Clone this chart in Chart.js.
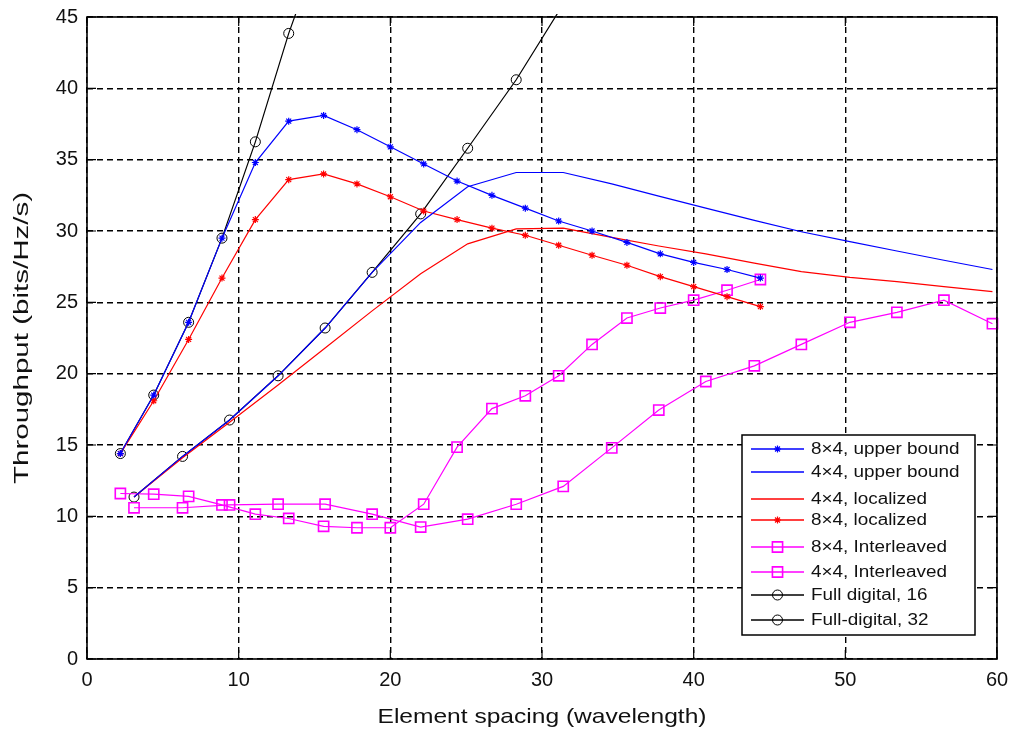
<!DOCTYPE html>
<html><head><meta charset="utf-8">
<script src="https://cdn.jsdelivr.net/npm/chart.js@4/dist/chart.umd.min.js"></script>
<style>html,body{margin:0;padding:0;background:#fff;}canvas{display:block;}</style>
</head><body>
<canvas id="c" width="1012" height="731"></canvas>
<script>
// ---- data ----
const xSpacing8 = [2.2, 4.4, 6.7, 8.9, 11.1, 13.3, 15.6, 17.8, 20.0, 22.2, 24.4, 26.7, 28.9, 31.1, 33.3, 35.6, 37.8, 40.0, 42.2, 44.4];
const xSpacing4 = [3.1, 6.3, 9.4, 12.6, 15.7, 18.8, 22.0, 25.1, 28.3, 31.4, 34.6, 37.7, 40.8, 44.0, 47.1, 50.3, 53.4, 56.5, 59.7];
const xFull16 = [2.2, 4.4, 6.7, 8.9, 11.1, 13.3, 15.6];
const xFull32 = [3.1, 6.3, 9.4, 12.6, 15.7, 18.8, 22.0, 25.1, 28.3, 31.4];

const upper8x4 = [14.4, 18.5, 23.6, 29.5, 34.8, 37.7, 38.1, 37.1, 35.9, 34.7, 33.5, 32.5, 31.6, 30.7, 30.0, 29.2, 28.4, 27.8, 27.3, 26.7];
const upper4x4 = [11.35, 14.2, 16.75, 19.85, 23.2, 27.1, 30.6, 33.1, 34.1, 34.1, 33.3, 32.45, 31.6, 30.75, 29.95, 29.25, 28.6, 27.95, 27.3];
const local4x4 = [11.35, 14.1, 16.6, 19.2, 21.8, 24.4, 27.0, 29.1, 30.15, 30.2, 29.55, 28.95, 28.4, 27.75, 27.15, 26.75, 26.45, 26.1, 25.75];
const local8x4 = [14.4, 18.1, 22.4, 26.7, 30.8, 33.6, 34.0, 33.3, 32.4, 31.4, 30.8, 30.2, 29.7, 29.0, 28.3, 27.6, 26.8, 26.1, 25.4, 24.7];
const inter8x4 = [11.6, 11.55, 11.4, 10.8, 10.15, 9.85, 9.3, 9.2, 9.2, 10.85, 14.85, 17.55, 18.45, 19.85, 22.05, 23.9, 24.6, 25.15, 25.85, 26.6];
const inter4x4 = [10.6, 10.6, 10.8, 10.85, 10.85, 10.15, 9.25, 9.8, 10.85, 12.1, 14.8, 17.45, 19.45, 20.55, 22.05, 23.6, 24.3, 25.15, 23.5];
const full16 = [14.4, 18.5, 23.6, 29.5, 36.25, 43.85, 50.7];
const full32 = [11.35, 14.2, 16.75, 19.85, 23.2, 27.1, 31.2, 35.8, 40.6, 45.9];

const seriesLabels = ['8\u00d74, upper bound', '4\u00d74, upper bound', '4\u00d74, localized', '8\u00d74, localized',
  '8\u00d74, Interleaved', '4\u00d74, Interleaved', 'Full digital, 16', 'Full-digital, 32'];
const xTickValues = [0, 10, 20, 30, 40, 50, 60];
const yTickValues = [0, 5, 10, 15, 20, 25, 30, 35, 40, 45];
const xTitle = 'Element spacing (wavelength)';
const yTitle = 'Throughput (bits/Hz/s)';

const pts = (xs, ys) => xs.map((x, i) => ({x: x, y: ys[i]}));
const FONT = "'Liberation Sans', Arial, sans-serif";

function ds(label, xs, ys, color, style, radius, pw) {
  return {label: label, data: pts(xs, ys), borderColor: color, backgroundColor: color,
    borderWidth: 1.2, pointStyle: style || false, pointRadius: style ? radius : 0,
    pointBorderColor: color, pointBackgroundColor: 'rgba(0,0,0,0)', pointBorderWidth: pw || 1.2,
    tension: 0, clip: 3, fill: false};
}

const datasets = [
  ds(seriesLabels[0], xSpacing8, upper8x4, '#0000ff', 'star', 3.5, 1.2),
  ds(seriesLabels[1], xSpacing4, upper4x4, '#0000ff', null),
  ds(seriesLabels[2], xSpacing4, local4x4, '#ff0000', null),
  ds(seriesLabels[3], xSpacing8, local8x4, '#ff0000', 'star', 3.5, 1.2),
  ds(seriesLabels[4], xSpacing8, inter8x4, '#ff00ff', 'rect', 7.2, 1.6),
  ds(seriesLabels[5], xSpacing4, inter4x4, '#ff00ff', 'rect', 7.2, 1.6),
  ds(seriesLabels[6], xFull16, full16, '#000000', 'circle', 5, 1),
  ds(seriesLabels[7], xFull32, full32, '#000000', 'circle', 5, 1)
];

function drawMarker(ctx, style, x, y, r, color, w) {
  ctx.save(); ctx.strokeStyle = color; ctx.lineWidth = w; ctx.setLineDash([]);
  ctx.beginPath();
  if (style === 'rect') { const s = r * Math.SQRT1_2; ctx.rect(x - s, y - s, 2 * s, 2 * s); }
  else if (style === 'circle') { ctx.arc(x, y, r, 0, Math.PI * 2); }
  else if (style === 'star') {
    for (let k = 0; k < 4; k++) { const a = k * Math.PI / 4; ctx.moveTo(x - r * Math.cos(a), y - r * Math.sin(a)); ctx.lineTo(x + r * Math.cos(a), y + r * Math.sin(a)); }
  }
  ctx.stroke(); ctx.restore();
}

// draws text stretched along its reading direction to a given length
function stretchedText(ctx, text, cx, cy, font, length, rot) {
  ctx.save();
  ctx.font = font;
  const w = ctx.measureText(text).width;
  ctx.translate(cx, cy);
  if (rot) ctx.rotate(rot);
  ctx.scale(length / w, 1);
  ctx.fillStyle = '#111';
  ctx.textAlign = 'center';
  ctx.textBaseline = 'middle';
  ctx.fillText(text, 0, 0);
  ctx.restore();
}

const framePlugin = {
  id: 'frame',
  afterDatasetsDraw(chart) {
    const {ctx, chartArea: a, scales} = chart;
    ctx.save();
    ctx.setLineDash([]);
    ctx.strokeStyle = '#000';
    ctx.lineWidth = 1.6;
    ctx.strokeRect(a.left, a.top, a.right - a.left, a.bottom - a.top);
    ctx.lineWidth = 1.2;
    const L = 9;
    ctx.beginPath();
    xTickValues.forEach(v => { const p = scales.x.getPixelForValue(v);
      ctx.moveTo(p, a.bottom); ctx.lineTo(p, a.bottom - L); ctx.moveTo(p, a.top); ctx.lineTo(p, a.top + L); });
    yTickValues.forEach(v => { const p = scales.y.getPixelForValue(v);
      ctx.moveTo(a.left, p); ctx.lineTo(a.left + L, p); ctx.moveTo(a.right, p); ctx.lineTo(a.right - L, p); });
    ctx.stroke();
    ctx.restore();
  },
  afterDraw(chart) {
    const {ctx, chartArea: a} = chart;
    // axis titles
    stretchedText(ctx, xTitle, (a.left + a.right) / 2, a.bottom + 58, '21px ' + FONT, 329, 0);
    stretchedText(ctx, yTitle, a.left - 65, (a.top + a.bottom) / 2, '21px ' + FONT, 292, -Math.PI / 2);
    // legend
    const bw = 233, bh = 200;
    const bx = a.right - 22 - bw, by = a.bottom - 24 - bh;
    ctx.save();
    ctx.setLineDash([]);
    ctx.fillStyle = '#fff';
    ctx.fillRect(bx, by, bw, bh);
    ctx.strokeStyle = '#000'; ctx.lineWidth = 1.5;
    ctx.strokeRect(bx, by, bw, bh);
    const rowY = [14, 37, 64, 85, 112, 137, 160, 185];
    chart.data.datasets.forEach((d, i) => {
      const y = by + rowY[i];
      ctx.strokeStyle = d.borderColor; ctx.lineWidth = 1.3;
      ctx.beginPath(); ctx.moveTo(bx + 9, y); ctx.lineTo(bx + 62, y); ctx.stroke();
      if (d.pointStyle) drawMarker(ctx, d.pointStyle, bx + 35.5, y, d.pointRadius, d.borderColor, d.pointBorderWidth);
      ctx.save();
      ctx.translate(bx + 69, y);
      ctx.scale(1.18, 1);
      ctx.fillStyle = '#111';
      ctx.font = '16px ' + FONT;
      ctx.textBaseline = 'middle';
      ctx.textAlign = 'left';
      ctx.fillText(d.label, 0, 1);
      ctx.restore();
    });
    ctx.restore();
  }
};

new Chart(document.getElementById('c'), {
  type: 'line',
  data: {datasets: datasets},
  options: {
    responsive: false, animation: false, devicePixelRatio: 1,
    layout: {padding: {left: 0, right: 15, top: 17, bottom: 0}},
    plugins: {legend: {display: false}, tooltip: {enabled: false}},
    scales: {
      x: {type: 'linear', min: 0, max: 60,
        afterFit: s => { s.height = 72; s.paddingLeft = 0; s.paddingRight = 0; },
        afterBuildTicks: s => { s.ticks = xTickValues.map(v => ({value: v})); },
        ticks: {padding: 9, color: '#111', font: {family: FONT, size: 20}},
        grid: {color: '#000', lineWidth: 1.4, drawTicks: false},
        border: {display: false, dash: [6, 4]},
        title: {display: false, text: xTitle}
      },
      y: {type: 'linear', min: 0, max: 45,
        afterFit: s => { s.width = 87; s.paddingTop = 0; s.paddingBottom = 0; },
        afterBuildTicks: s => { s.ticks = yTickValues.map(v => ({value: v})); },
        ticks: {padding: 9, color: '#111', font: {family: FONT, size: 20}},
        grid: {color: '#000', lineWidth: 1.4, drawTicks: false},
        border: {display: false, dash: [6, 4]},
        title: {display: false, text: yTitle}
      }
    }
  },
  plugins: [framePlugin]
});
</script>
</body></html>
